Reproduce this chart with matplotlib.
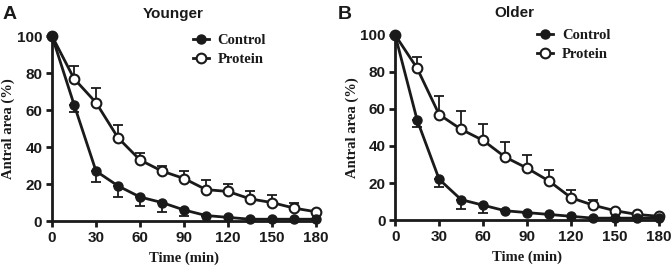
import matplotlib
matplotlib.use("Agg")
import matplotlib.pyplot as plt
import numpy as np

time = [0, 15, 30, 45, 60, 75, 90, 105, 120, 135, 150, 165, 180]

young_control = [100, 63, 27, 19, 13, 10, 6, 3, 2, 1, 1, 1, 1]
young_control_err = [0, 4, 6, 6, 5, 5, 3, 0, 0, 0, 0, 0, 0]
young_protein = [100, 77, 64, 45, 33, 27, 23, 17, 16, 12, 10, 7, 5]
young_protein_err = [0, 7, 8, 7, 4, 3, 4, 5, 4, 4, 4, 3, 0]

old_control = [100, 54, 22, 11, 8, 5, 4, 3, 2, 1, 1, 1, 1]
old_control_err = [0, 4, 4, 5, 4, 0, 0, 0, 0, 0, 0, 0, 0]
old_protein = [100, 82, 57, 49, 43, 34, 28, 21, 12, 8, 5, 3, 2]
old_protein_err = [0, 6, 10, 10, 9, 8, 7, 6, 4, 3, 0, 0, 0]

xticks = [0, 30, 60, 90, 120, 150, 180]
yticks = [0, 20, 40, 60, 80, 100]

fig = plt.figure(figsize=(6.72, 2.67), dpi=100)
sans = "Liberation Sans"
serif = "Liberation Serif"
ink = '#1a1a1a'

def panel(rect, ctrl, cerr, prot, perr, title, title_x, leg_anchor):
    ax = fig.add_axes(rect)
    t = np.array(time)
    ctrl = np.array(ctrl); prot = np.array(prot)
    # error bars: control downward, protein upward
    ax.errorbar(t, ctrl, yerr=[cerr, np.zeros_like(t)], fmt='none', ecolor=ink,
                elinewidth=1.3, capsize=3.5, capthick=1.3, clip_on=False, zorder=2)
    ax.errorbar(t, prot, yerr=[np.zeros_like(t), perr], fmt='none', ecolor=ink,
                elinewidth=1.3, capsize=3.5, capthick=1.3, clip_on=False, zorder=2)
    ax.plot(t, ctrl, '-o', color=ink, lw=2, ms=6.5, mfc=ink, mec=ink,
            clip_on=False, zorder=4, label='Control')
    ax.plot(t, prot, '-o', color=ink, lw=2, ms=7, mfc='white', mec=ink, mew=1.5,
            clip_on=False, zorder=3, label='Protein')
    ax.set_xlim(0, 180)
    ax.set_ylim(0, 100)
    ax.set_xticks(xticks)
    ax.set_yticks(yticks)
    for s in ['top', 'right']:
        ax.spines[s].set_visible(False)
    for s in ['left', 'bottom']:
        ax.spines[s].set_linewidth(2)
        ax.spines[s].set_color(ink)
    ax.tick_params(width=2, length=4, color=ink, pad=3)
    for lab in ax.get_xticklabels() + ax.get_yticklabels():
        lab.set_fontfamily(sans); lab.set_fontweight('bold'); lab.set_fontsize(11)
        lab.set_color(ink)
    ax.set_xlabel('Time (min)', fontfamily=serif, fontweight='bold', fontsize=10.5,
                  color=ink, labelpad=5)
    ax.set_ylabel('Antral area (%)', fontfamily=serif, fontweight='bold', fontsize=10.5,
                  color=ink, labelpad=1)
    ax.set_title(title, fontfamily=sans, fontweight='bold', fontsize=11, pad=13, color=ink,
                 x=title_x)
    leg = ax.legend(loc='upper left', bbox_to_anchor=leg_anchor, frameon=False,
                    prop={'family': serif, 'weight': 'bold', 'size': 10.5},
                    handlelength=1.1, handletextpad=0.6, labelspacing=0.42, borderaxespad=0)
    for txt in leg.get_texts():
        txt.set_color(ink)
    return ax

axA = panel([0.0774, 0.172, 0.393, 0.693], young_control, young_control_err,
            young_protein, young_protein_err, 'Younger', 0.458, (0.51, 1.045))
axB = panel([0.588, 0.176, 0.393, 0.693], old_control, old_control_err,
            old_protein, old_protein_err, 'Older', 0.45, (0.515, 1.065))

fig.text(0.003, 0.93, 'A', fontfamily=sans, fontweight='bold', fontsize=14, color=ink)
fig.text(0.503, 0.93, 'B', fontfamily=sans, fontweight='bold', fontsize=14, color=ink)

fig.savefig('out.png', dpi=100)
